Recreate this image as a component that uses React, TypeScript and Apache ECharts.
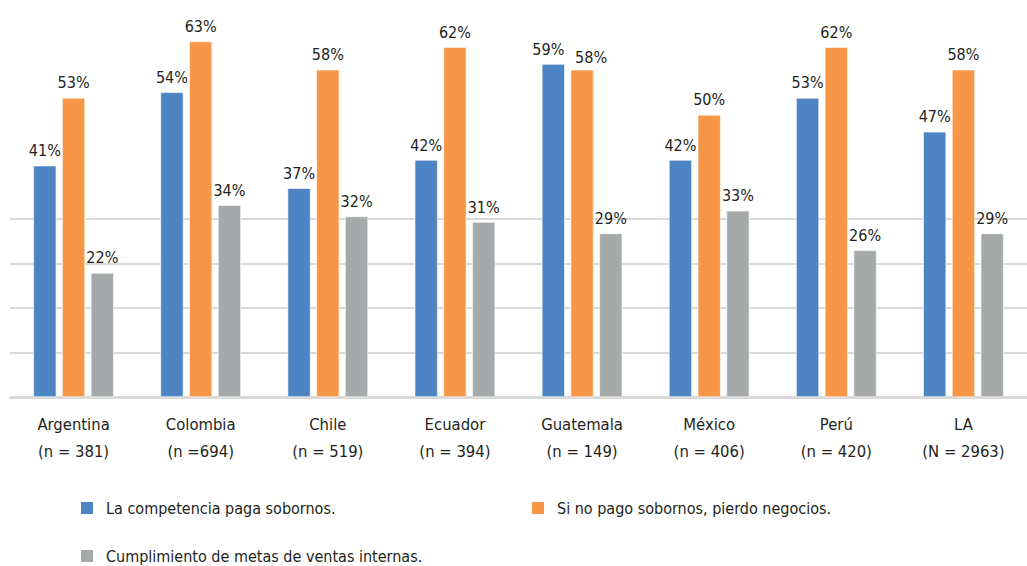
import React, { useEffect, useRef } from "react";
import * as echarts from "echarts";

const categories = [
  "Argentina\n(n = 381)",
  "Colombia\n(n =694)",
  "Chile\n(n = 519)",
  "Ecuador\n(n = 394)",
  "Guatemala\n(n = 149)",
  "México\n(n = 406)",
  "Perú\n(n = 420)",
  "LA\n(N = 2963)",
];
const competencia = [41, 54, 37, 42, 59, 42, 53, 47];
const pierdo = [53, 63, 58, 62, 58, 50, 62, 58];
const metas = [22, 34, 32, 31, 29, 33, 26, 29];
const seriesNames = [
  "La competencia paga sobornos.",
  "Si no pago sobornos, pierdo negocios.",
  "Cumplimiento de metas de ventas internas.",
];
const gridValues = [7.9, 15.8, 23.7, 31.6];

const FONT = "'DejaVu Sans Condensed', 'Liberation Sans Narrow', 'Noto Sans', sans-serif";
const TEXT = "#231f20";
const COLORS = ["#4f84c4", "#f79646", "#a6a9aa"];
// label nudges (px) per series for crowded labels, keyed by category index
const labelNudges: Record<number, Record<number, number[]>> = {
  0: { 4: [-5, 0] },
  1: { 4: [9, 3] },
};

export default function App() {
  const ref = useRef<HTMLDivElement>(null);
  useEffect(() => {
    if (!ref.current) return;
    const chart = echarts.init(ref.current, null, { renderer: "svg" });
    const label = {
      show: true,
      position: "top",
      distance: 7,
      formatter: "{c}%",
      color: TEXT,
      fontFamily: FONT,
      fontSize: 16,
    };
    const mkSeries = (i: number, data: number[], extra: any = {}) => ({
      name: seriesNames[i],
      type: "bar",
      data: data.map((v, j) => {
        const nudge = labelNudges[i] && labelNudges[i][j];
        return nudge ? { value: v, label: { offset: nudge } } : v;
      }),
      barWidth: 23,
      barGap: "25%",
      itemStyle: { color: COLORS[i], borderColor: "#ffffff", borderWidth: 0.6 },
      label,
      ...extra,
    });
    const legendBase = {
      itemWidth: 14,
      itemHeight: 14,
      icon: "rect",
      padding: 0,
      textStyle: {
        color: TEXT,
        fontFamily: FONT,
        fontSize: 16,
        padding: [0, 0, 0, 7],
      },
    };
    chart.setOption({
      animation: false,
      backgroundColor: "#ffffff",
      grid: { left: 10, width: 1021, top: 2, bottom: 169, containLabel: false },
      legend: [
        { ...legendBase, data: [seriesNames[0]], left: 79, top: 500 },
        { ...legendBase, data: [seriesNames[1]], left: 530, top: 500 },
        { ...legendBase, data: [seriesNames[2]], left: 79, top: 548 },
      ],
      xAxis: {
        type: "category",
        data: categories,
        axisLine: { lineStyle: { color: "#d9d9d9", width: 3 } },
        axisTick: { show: false },
        axisLabel: {
          color: TEXT,
          fontFamily: FONT,
          fontSize: 16.5,
          lineHeight: 27,
          margin: 14,
          interval: 0,
        },
      },
      yAxis: {
        type: "value",
        min: 0,
        max: 70,
        show: false,
        splitLine: { show: false },
      },
      series: [
        mkSeries(0, competencia),
        mkSeries(1, pierdo),
        mkSeries(2, metas, {
          markLine: {
            silent: true,
            symbol: "none",
            z: 1,
            label: { show: false },
            lineStyle: { color: "#d9d9d9", width: 2, type: "solid" },
            data: gridValues.map((v) => ({ yAxis: v })),
          },
        }),
      ],
    });
    return () => chart.dispose();
  }, []);
  return (
    <div
      ref={ref}
      style={{ position: "absolute", left: 0, top: 0, width: 1027, height: 566 }}
    />
  );
}
